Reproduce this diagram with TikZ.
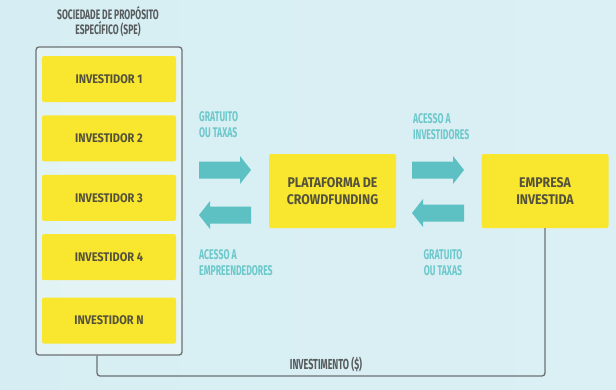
\documentclass[tikz,border=0pt]{standalone}
\usepackage{fontspec}
\setmainfont{Fira Sans}
\newfontfamily\narrowfont[FakeStretch=0.62]{Fira Sans}
\newfontfamily\boxfont[FakeStretch=0.88]{Fira Sans}
\usetikzlibrary{positioning}

\definecolor{amarelo}{HTML}{F8E72E}
\definecolor{turquesa}{HTML}{5DC0C2}
\definecolor{turqtexto}{HTML}{6CC8CB}
\definecolor{cinza}{HTML}{6D7173}
\definecolor{textocaixa}{HTML}{55523C}
\definecolor{fundoA}{HTML}{D6EEF3}
\definecolor{fundoB}{HTML}{F0F7F9}

\tikzset{
    caixa/.style={fill=amarelo, rounded corners=2pt, minimum width=134pt, minimum height=46pt,
        inner sep=0pt, font=\boxfont\bfseries\fontsize{12.5}{15}\selectfont, text=textocaixa, align=center},
    caixagrande/.style={caixa, minimum width=127pt, minimum height=74pt,
        font=\boxfont\bfseries\fontsize{14}{17}\selectfont},
    rotulo/.style={font=\narrowfont\bfseries\fontsize{14}{16.5}\selectfont, text=turqtexto, inner sep=0pt},
    titulo/.style={font=\narrowfont\bfseries\fontsize{13.7}{15.5}\selectfont, text=cinza!80!black, inner sep=0pt, align=center},
    linha/.style={draw=cinza, line width=1.3pt, rounded corners=3pt},
    seta/.pic={\fill[turquesa] (-26,-8.5) -- (15,-8.5) -- (15,-14) -- (26,0) -- (15,14) -- (15,8.5) -- (-26,8.5) -- cycle;}
}

\begin{document}
\begin{tikzpicture}[x=1pt, y=-1pt]
    \useasboundingbox (0,0) rectangle (616,389);
    \shade[left color=fundoA, middle color=fundoB, right color=fundoA!80!fundoB] (0,0) rectangle (616,389);

    % sociedade de proposito especifico
    \node[titulo] (tit) at (108,21.5) {SOCIEDADE DE PROPÓSITO\\ESPECÍFICO (SPE)};
    \node[linha, fill=white, fill opacity=0.3, minimum width=146pt, minimum height=308pt] (spe) at (109,201) {};
    \node[caixa] (inv1) at (109,79) {INVESTIDOR 1};
    \node[caixa, below=13pt of inv1] (inv2) {INVESTIDOR 2};
    \node[caixa, below=13pt of inv2] (inv3) {INVESTIDOR 3};
    \node[caixa, below=13pt of inv3] (inv4) {INVESTIDOR 4};
    \node[caixa, below=17pt of inv4] (invN) {INVESTIDOR N};

    % plataforma e empresa
    \node[caixagrande] (plat) at (332.5,191) {PLATAFORMA DE\\CROWDFUNDING};
    \node[caixagrande] (empresa) at (545,191) {EMPRESA\\INVESTIDA};

    % setas
    \pic at (225,170) {seta};
    \pic[xscale=-1] at (225,215) {seta};
    \pic at (438,170) {seta};
    \pic[xscale=-1] at (438,213) {seta};

    \node[rotulo, anchor=north west, align=left] (gr1) at (199,111) {GRATUITO\\OU TAXAS};
    \node[rotulo, anchor=north west, align=left] (ac1) at (199,249) {ACESSO A\\EMPREENDEDORES};
    \node[rotulo, anchor=north west, align=left] (ac2) at (413,113) {ACESSO A\\INVESTIDORES};
    \node[rotulo, anchor=north, align=center] (gr2) at (443,249) {GRATUITO\\OU TAXAS};

    % investimento
    \coordinate (canto) at (97,376);
    \draw[linha] (empresa.south) |- (canto) -- (canto |- spe.south);
    \node[titulo, font=\narrowfont\bfseries\fontsize{14.5}{16}\selectfont] (invest) at (326,364.5) {INVESTIMENTO (\$)};
\end{tikzpicture}
\end{document}
